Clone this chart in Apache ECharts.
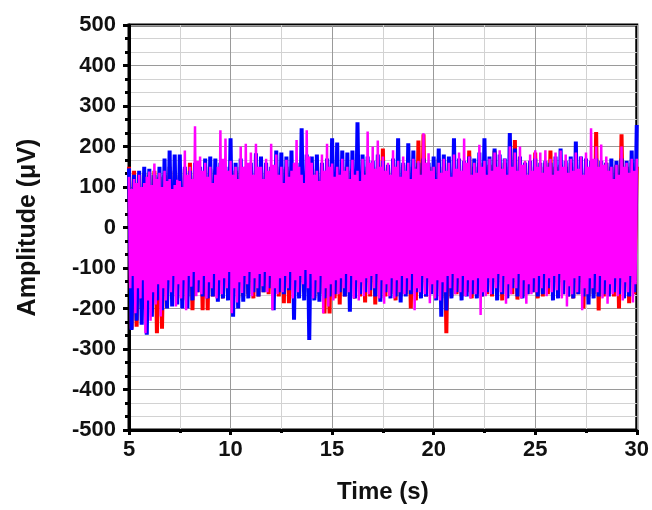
<!DOCTYPE html>
<html>
<head>
<meta charset="utf-8">
<script src="https://cdn.jsdelivr.net/npm/echarts@6/dist/echarts.min.js"></script>
<style>
html,body{margin:0;padding:0;background:#fff;}
#main{width:652px;height:510px;}
</style>
</head>
<body>
<div id="main"></div>
<script>
// time base of the traces (s)
var tStart=5;
var stepRB=0.25;    // red / blue: one up/down swing every 0.25 s
var stepM=0.125;    // magenta: one up/down swing every 0.125 s

// peak (upper) and trough (lower) amplitudes in uV
var redUpper=[150,140,130,135,130,140,125,130,150,140,130,145,160,150,140,150,145,140,150,140,
    150,140,150,145,150,140,145,150,140,150,145,150,140,150,145,140,150,145,150,140,
    150,145,150,140,145,150,140,150,145,150,195,150,160,150,155,150,150,215,230,150,
    150,170,150,160,150,155,150,190,150,160,150,155,190,150,160,150,216,150,160,150,
    185,150,160,190,150,155,150,160,150,155,150,160,236,150,160,150,155,230,150,160,150];
var redLower=[-250,-245,-200,-220,-210,-261,-250,-180,-170,-175,-180,-170,-204,-160,-204,-204,-170,-165,-175,-170,
    -180,-175,-170,-165,-175,-170,-160,-165,-175,-170,-187,-187,-170,-165,-160,-170,-175,-165,-212,-212,
    -175,-190,-170,-165,-175,-170,-185,-170,-190,-175,-170,-165,-180,-170,-165,-200,-180,-165,-170,-160,
    -170,-175,-261,-170,-165,-170,-160,-175,-165,-170,-165,-170,-160,-180,-170,-165,-178,-170,-165,-160,
    -175,-170,-165,-160,-170,-165,-170,-175,-165,-200,-170,-165,-205,-170,-165,-170,-200,-170,-187,-165];

var blueUpper=[146,130,140,150,145,130,150,170,190,180,180,150,140,160,150,170,175,170,160,150,
    220,160,170,150,160,183,175,160,150,190,185,175,190,160,245,180,175,180,160,170,
    220,210,190,185,190,260,180,175,165,180,165,155,170,220,160,208,190,160,170,160,
    175,195,180,175,220,170,165,175,170,185,220,175,195,180,170,233,195,175,160,165,
    170,160,165,160,175,195,165,175,212,175,170,165,170,165,160,170,165,170,165,190,253];
var blueLower=[-253,-230,-240,-265,-220,-180,-204,-200,-195,-190,-200,-200,-180,-160,-170,-175,-170,-183,-175,-180,
    -220,-200,-183,-175,-160,-170,-160,-150,-204,-160,-165,-155,-228,-175,-180,-278,-180,-183,-175,-170,
    -165,-160,-170,-208,-175,-165,-160,-155,-170,-183,-160,-175,-170,-185,-170,-165,-160,-175,-170,-165,
    -180,-220,-205,-175,-160,-180,-170,-165,-175,-170,-160,-165,-180,-165,-175,-150,-170,-175,-165,-160,
    -170,-165,-150,-180,-175,-165,-170,-175,-165,-170,-190,-175,-170,-165,-170,-160,-165,-175,-170,-160];

var magentaUpper=[125,95,120,110,130,100,110,125,138,105,158,120,135,100,140,115,120,95,105,118,
    115,100,190,130,150,120,250,165,175,140,160,125,150,110,130,150,240,170,220,140,
    165,130,150,120,200,150,207,160,185,130,207,150,150,120,170,140,207,155,180,130,
    150,110,167,125,140,160,216,150,130,110,240,175,160,130,140,115,180,140,207,150,
    158,125,150,130,170,140,150,120,167,130,140,115,170,130,237,160,200,145,215,150,
    175,140,160,130,191,150,165,125,175,140,160,120,170,145,165,130,233,160,183,140,
    150,120,160,135,170,140,160,125,180,145,185,140,220,160,175,130,160,135,204,150,
    165,130,170,140,185,150,191,145,170,130,200,150,185,140,200,155,165,130,180,140,
    191,150,185,135,191,150,170,130,185,140,190,150,180,135,170,140,185,145,175,130,
    185,150,245,170,200,150,205,155,175,140,150,120,155,130,200,150,160,135,170,140,170];
var magentaLower=[-150,-120,-212,-150,-175,-130,-261,-180,-230,-160,-190,-140,-220,-150,-180,-130,-160,-120,-195,-140,
    -175,-130,-204,-120,-146,-110,-170,-130,-165,-120,-175,-135,-150,-115,-175,-130,-165,-125,-150,-110,
    -212,-150,-185,-135,-162,-120,-140,-110,-170,-125,-150,-115,-145,-110,-160,-120,-204,-150,-165,-125,
    -160,-120,-150,-110,-175,-130,-160,-120,-140,-105,-150,-115,-175,-130,-160,-120,-212,-150,-195,-140,
    -180,-130,-165,-125,-150,-115,-160,-120,-175,-130,-180,-135,-170,-125,-165,-120,-150,-115,-175,-130,
    -188,-140,-170,-125,-175,-130,-160,-120,-165,-125,-155,-115,-204,-150,-160,-120,-165,-125,-187,-140,
    -175,-130,-180,-135,-160,-120,-150,-115,-165,-125,-160,-120,-170,-130,-175,-130,-165,-125,-216,-160,
    -170,-125,-165,-125,-150,-115,-160,-120,-188,-140,-165,-125,-150,-115,-175,-130,-188,-140,-165,-125,
    -160,-120,-150,-115,-170,-125,-160,-120,-155,-115,-175,-130,-195,-145,-165,-125,-160,-120,-204,-150,
    -165,-125,-150,-115,-160,-120,-175,-130,-188,-140,-165,-125,-170,-125,-180,-135,-160,-120,-185,-140];

var xTicks=[5,10,15,20,25,30];
var yTicks=[-500,500];

//把峰值和谷值交替排成一条折线
function buildTrace(upper,lower,step){
    var pts=[];
    for(var i=0;i<upper.length;i++){
        var t=tStart+i*step;
        pts.push([t,upper[i]]);
        if(i<lower.length){
            pts.push([t+step/2,lower[i]]);
        }
    }
    return pts;
}

var fontFam="Liberation Sans, Arial, sans-serif";

function makeSeries(name,color,data,width){
    return {
        name:name,
        type:"line",
        data:data,
        symbol:"none",
        showSymbol:false,
        animation:false,
        lineStyle:{color:color,width:width},
        itemStyle:{color:color}
    };
}

var myChart=echarts.init(document.getElementById("main"));
var option={
    animation:false,
    backgroundColor:"#fff",
    grid:{
        left:129,
        right:14,
        top:25,
        bottom:80,
        show:true,
        borderColor:"#000",
        borderWidth:3,
        backgroundColor:"transparent"
    },
    xAxis:{
        type:"value",
        min:xTicks[0],
        max:xTicks[xTicks.length-1],
        interval:5,
        name:"Time (s)",
        nameLocation:"middle",
        nameGap:50,
        nameTextStyle:{fontFamily:fontFam,fontWeight:"bold",fontSize:24,color:"#111"},
        axisLine:{show:true,onZero:false,lineStyle:{color:"#000",width:3}},
        axisTick:{show:true,inside:false,length:5,lineStyle:{color:"#000",width:3}},
        minorTick:{show:true,splitNumber:2,length:3,lineStyle:{color:"#000",width:3}},
        splitLine:{show:true,lineStyle:{color:"#9a9a9a",width:1}},
        minorSplitLine:{show:true,lineStyle:{color:"#d2d2d2",width:1}},
        axisLabel:{fontFamily:fontFam,fontWeight:"bold",fontSize:22,color:"#111",margin:9}
    },
    yAxis:{
        type:"value",
        min:yTicks[0],
        max:yTicks[1],
        interval:100,
        name:"Amplitude (\u03bcV)",
        nameLocation:"middle",
        nameGap:88,
        nameRotate:90,
        nameTextStyle:{fontFamily:fontFam,fontWeight:"bold",fontSize:25,color:"#111"},
        axisLine:{show:true,onZero:false,lineStyle:{color:"#000",width:3}},
        axisTick:{show:true,inside:false,length:6,lineStyle:{color:"#000",width:3}},
        minorTick:{show:true,splitNumber:3,length:4,lineStyle:{color:"#000",width:3}},
        splitLine:{show:true,lineStyle:{color:"#9a9a9a",width:1}},
        minorSplitLine:{show:true,lineStyle:{color:"#d2d2d2",width:1}},
        axisLabel:{fontFamily:fontFam,fontWeight:"bold",fontSize:22,color:"#111",margin:13}
    },
    series:[
        makeSeries("red","#ff0000",buildTrace(redUpper,redLower,stepRB),4),
        makeSeries("blue","#0000ff",buildTrace(blueUpper,blueLower,stepRB),4),
        makeSeries("magenta","#ff00ff",buildTrace(magentaUpper,magentaLower,stepM),2.5)
    ]
};
myChart.setOption(option);
</script>
</body>
</html>
